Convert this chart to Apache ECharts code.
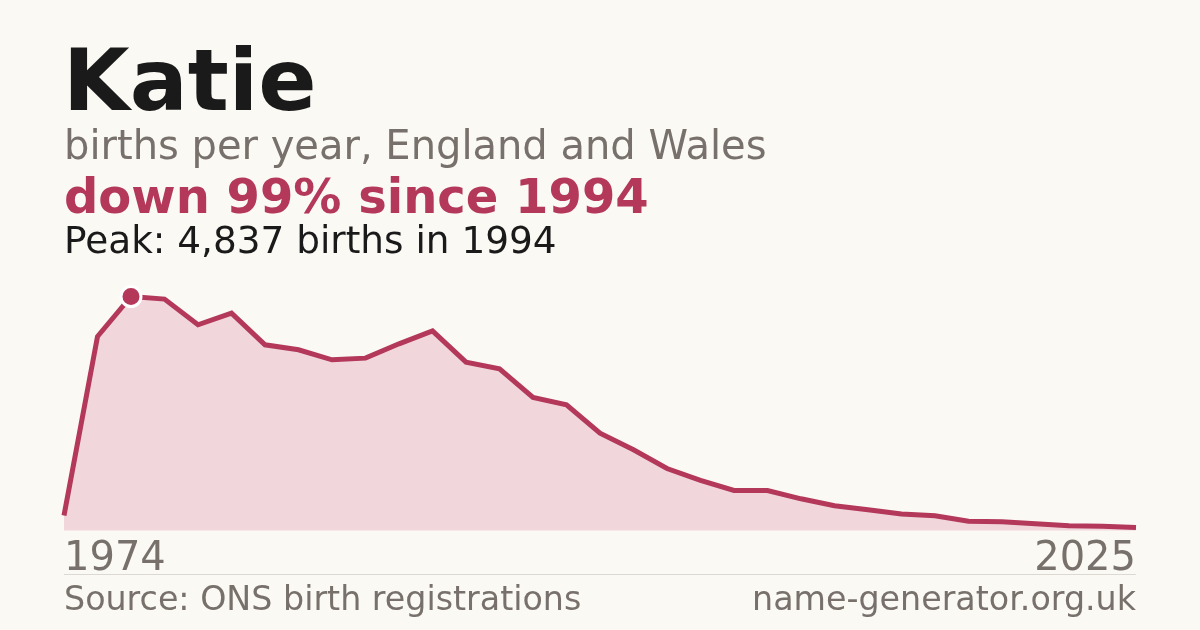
<!DOCTYPE html>
<html>
<head>
<meta charset="utf-8">
<script src="https://cdn.jsdelivr.net/npm/echarts@6/dist/echarts.min.js"></script>
<style>
html,body{margin:0;padding:0;background:#faf9f4;}
#chart{width:1200px;height:630px;}
</style>
</head>
<body>
<div id="chart"></div>
<script>
// ---- data ----
const years = ['1974','1984','1994','1996','1997','1998','1999','2000','2001','2002','2003','2004','2005','2006','2007','2008','2009','2010','2011','2012','2013','2014','2015','2016','2017','2018','2019','2020','2021','2022','2023','2024','2025'];
const births = [310, 4010, 4837, 4783, 4252, 4494, 3838, 3735, 3528, 3563, 3859, 4128, 3481, 3342, 2749, 2598, 2013, 1668, 1281, 1034, 827, 827, 655, 511, 428, 339, 304, 190, 180, 138, 97, 90, 62];
const titleText = 'Katie';
const subtitleText = 'births per year, England and Wales';
const changeText = 'down 99% since 1994';
const peakText = 'Peak: 4,837 births in 1994';
const sourceText = 'Source: ONS birth registrations';
const siteText = 'name-generator.org.uk';

const peakVal = Math.max(...births);
const peakIdx = births.indexOf(peakVal);

const FONT = 'DejaVu Sans';
const GRAY = '#78716b';
const RED = '#b3385a';
const DARK = '#1a1a1a';

const chart = echarts.init(document.getElementById('chart'), null, {renderer: 'canvas'});
chart.setOption({
  backgroundColor: '#faf9f4',
  animation: false,
  grid: {left: 64, right: 64, top: 296.5, bottom: 99.5, containLabel: false},
  xAxis: {
    type: 'category',
    data: years,
    boundaryGap: false,
    axisLine: {show: false},
    axisTick: {show: false},
    splitLine: {show: false},
    axisLabel: {
      interval: function (i) { return i === 0 || i === years.length - 1; },
      alignMinLabel: 'left',
      alignMaxLabel: 'right',
      verticalAlign: 'middle',
      margin: 29,
      fontFamily: FONT,
      fontSize: 40,
      color: GRAY
    }
  },
  yAxis: {
    type: 'value',
    min: 0,
    max: peakVal,
    show: false,
    splitLine: {show: false}
  },
  series: [{
    type: 'line',
    data: births.map(function (v, i) {
      if (i === peakIdx) {
        return {value: v, symbol: 'circle', symbolSize: 20,
          itemStyle: {color: RED, borderColor: '#ffffff', borderWidth: 3}};
      }
      return {value: v, symbol: 'none'};
    }),
    showSymbol: true,
    symbol: 'none',
    lineStyle: {color: RED, width: 5, join: 'miter'},
    itemStyle: {color: RED},
    areaStyle: {color: '#f1d6dc', opacity: 1},
    z: 3
  }],
  graphic: [
    {type: 'text', x: 63, y: 88, style: {text: titleText, font: 'bold 86px "DejaVu Sans"', fill: DARK, verticalAlign: 'middle'}, z: 10},
    {type: 'text', x: 64, y: 148.5, style: {text: subtitleText, font: '40px "DejaVu Sans"', fill: GRAY, verticalAlign: 'middle'}},
    {type: 'text', x: 64, y: 200.4, style: {text: changeText, font: 'bold 48px "DejaVu Sans"', fill: RED, verticalAlign: 'middle'}},
    {type: 'text', x: 64, y: 243.5, style: {text: peakText, font: '37.4px "DejaVu Sans"', fill: DARK, verticalAlign: 'middle'}},
    {type: 'line', shape: {x1: 64, y1: 574.5, x2: 1136, y2: 574.5}, style: {stroke: '#dcd9d2', lineWidth: 1}},
    {type: 'text', x: 64, y: 601, style: {text: sourceText, font: '33.3px "DejaVu Sans"', fill: GRAY, verticalAlign: 'middle'}},
    {type: 'text', x: 1136, y: 601, style: {text: siteText, font: '33.3px "DejaVu Sans"', fill: GRAY, align: 'right', verticalAlign: 'middle'}}
  ]
});
</script>
</body>
</html>
